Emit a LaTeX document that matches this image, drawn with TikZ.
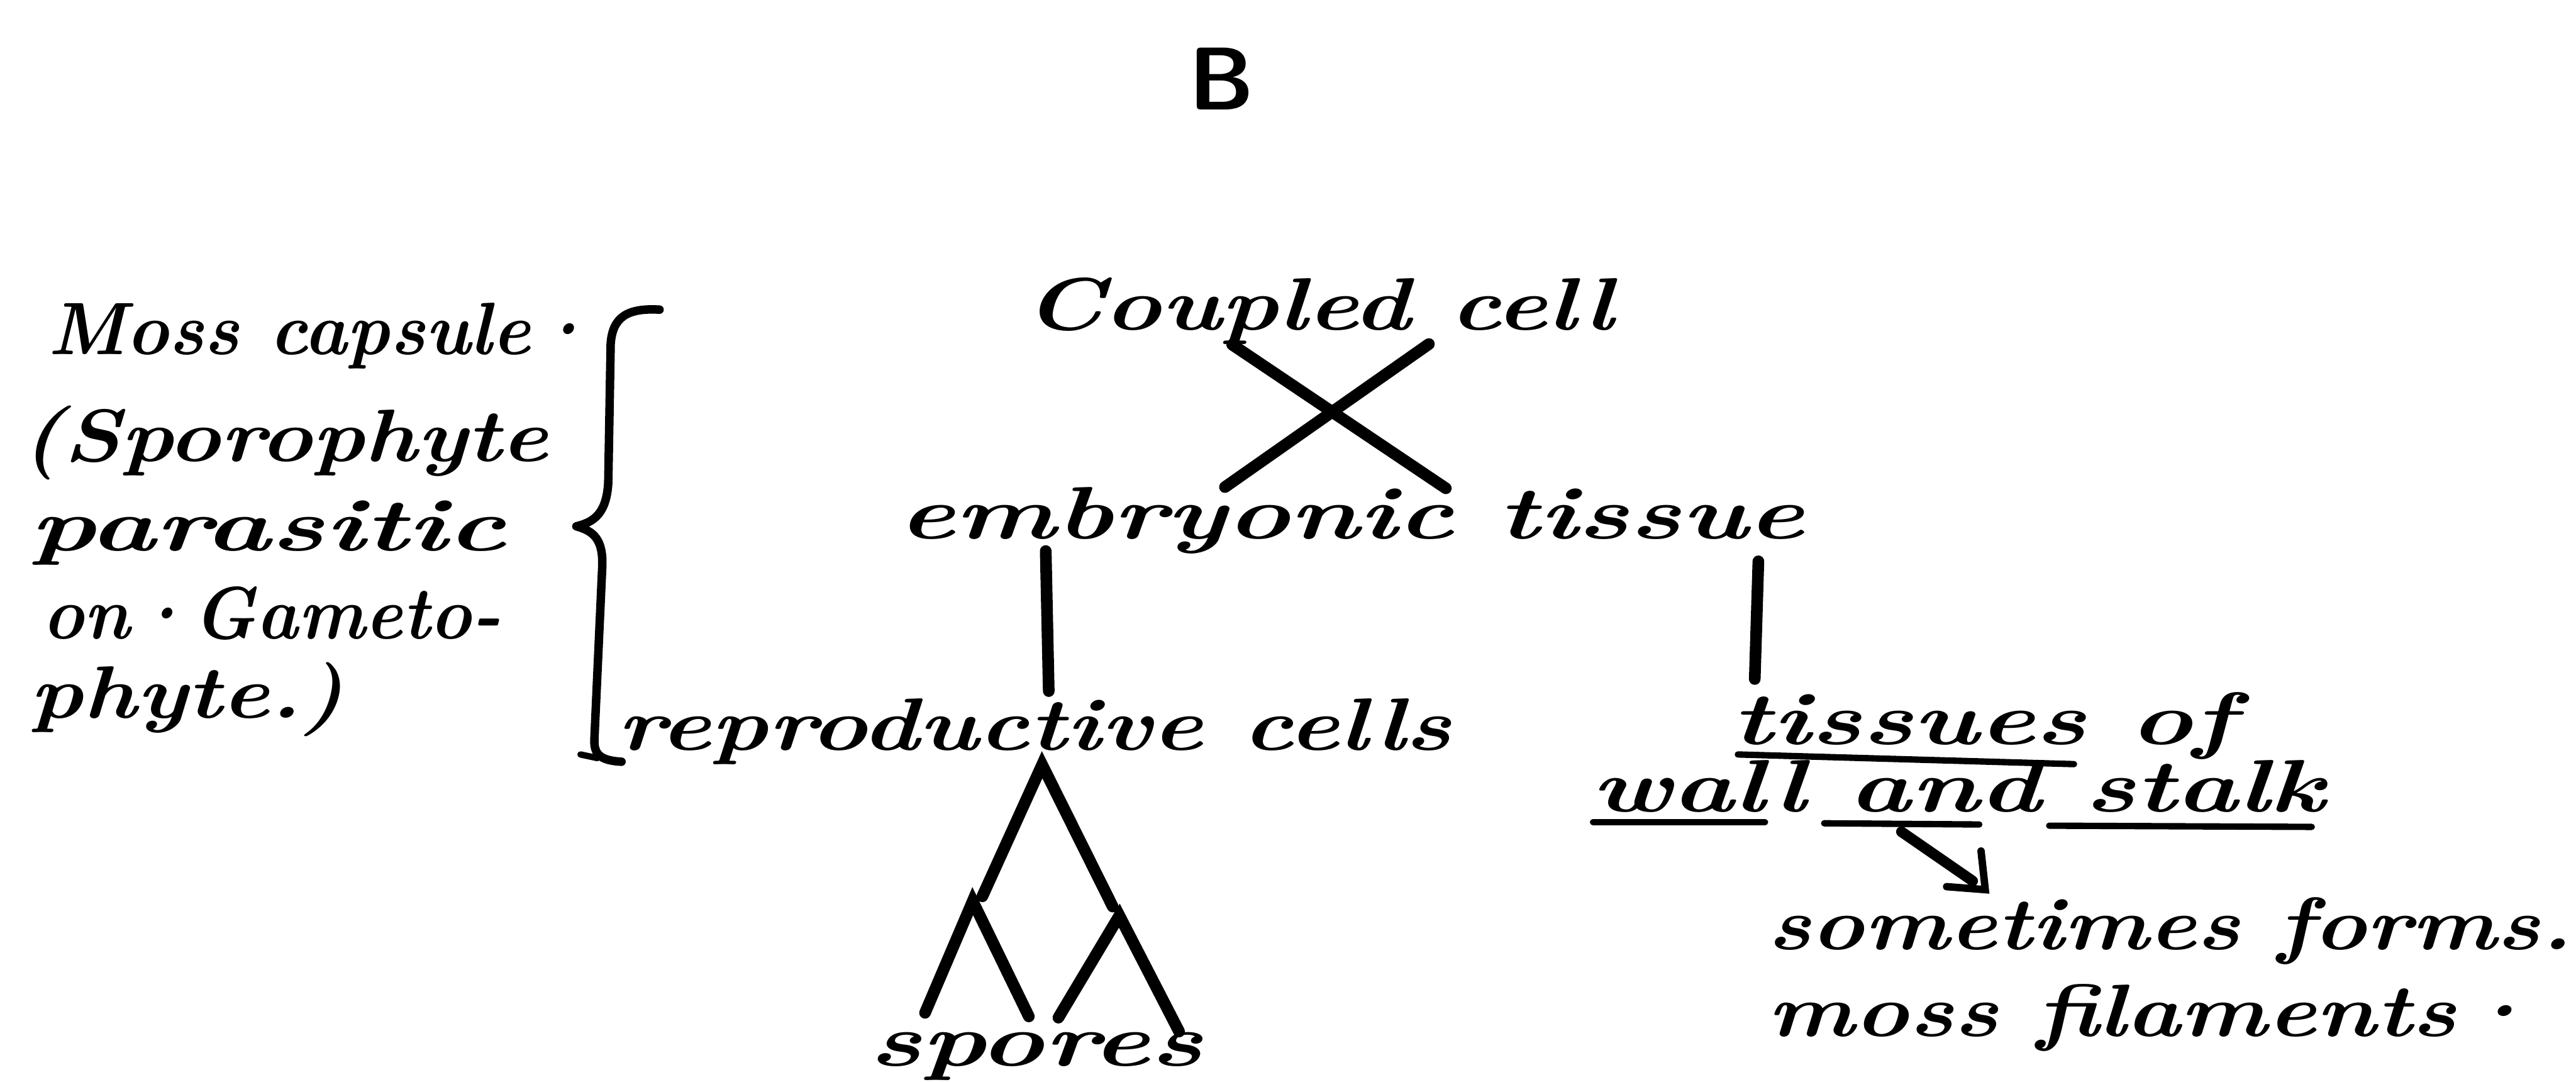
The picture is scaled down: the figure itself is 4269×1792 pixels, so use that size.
\documentclass[tikz,border=0pt]{standalone}
\usepackage{graphicx}
\usetikzlibrary{arrows.meta,calc}
\newcommand\hw[2]{\resizebox{#1}{\height}{#2}}
\begin{document}
\begin{tikzpicture}[x=0.01cm,y=-0.01cm,
  hand/.style={anchor=base west,inner sep=0pt,outer sep=0pt,font=\fontsize{35}{40}\selectfont\bfseries\itshape},
  ink/.style={line width=5.5pt,line cap=round},
  uline/.style={line width=3pt,line cap=round},
  bracestyle/.style={line width=4pt,line cap=round,line join=round}]
\useasboundingbox[fill=white] (0,0) rectangle (4269,1792);

% title
\node[inner sep=0pt,font=\fontsize{42}{46}\selectfont\sffamily\bfseries] (title) at (2024,131) {B};

% left description
\node[hand] (moss) at (80,587) {\hw{9.05cm}{Moss capsule·}};
\node[hand] (spor) at (35,765) {\hw{8.73cm}{(Sporophyte}};
\node[hand] (para) at (50,913) {\hw{7.88cm}{parasitic}};
\node[hand] (game) at (70,1058) {\hw{7.6cm}{on·Gameto-}};
\node[hand] (phyt) at (50,1190) {\hw{5.2cm}{phyte.)}};

% brace
\draw[bracestyle] (1093,513) .. controls (1040,510) and (1015,525) .. (1012,570)
  -- (1008,800) .. controls (1005,850) and (985,865) .. (955,872)
  .. controls (985,880) and (1000,895) .. (998,940)
  -- (985,1225) .. controls (984,1250) and (995,1260) .. (1030,1262);
\draw[bracestyle,line width=3pt] (962,1250) -- (990,1256);

% main tree text
\node[hand] (coupled) at (1697,547) {\hw{9.76cm}{Coupled cell}};
\node[hand] (embryo) at (1489,893) {\hw{15.0cm}{embryonic tissue}};
\node[hand] (repro) at (1023,1243) {\hw{13.82cm}{reproductive cells}};
\node[hand] (tissues) at (2870,1233) {\hw{8.33cm}{tissues of}};
\node[hand] (wall) at (2637,1345) {\hw{12.15cm}{wall and stalk}};
\node[hand] (some) at (2929,1573) {\hw{13.33cm}{sometimes forms.}};
\node[hand] (fila) at (2929,1717) {\hw{12.76cm}{moss filaments·}};
\node[hand] (spores) at (1440,1766) {\hw{5.53cm}{spores}};

% coordinates
\coordinate (xa1) at (2042,571); \coordinate (xa2) at (2396,809);
\coordinate (xb1) at (2368,570); \coordinate (xb2) at (2030,807);
\coordinate (vl1) at (1733,913); \coordinate (vl2) at (1738,1145);
\coordinate (vr1) at (2914,930); \coordinate (vr2) at (2908,1125);
\coordinate (apex) at (1727,1267);
\coordinate (bl) at (1628,1485); \coordinate (br) at (1844,1502);
\coordinate (sla) at (1612,1493); \coordinate (sl1) at (1533,1678); \coordinate (sl2) at (1705,1684);
\coordinate (sra) at (1855,1517); \coordinate (sr1) at (1754,1686); \coordinate (sr2) at (1954,1709);
\coordinate (arrS) at (3151,1378); \coordinate (arrE) at (3290,1474);
\coordinate (arrM) at ($(arrS)!0.85!(arrE)$);

% connectors
\draw[ink] (xa1) -- (xa2);
\draw[ink] (xb1) -- (xb2);
\draw[ink] (vl1) -- (vl2);
\draw[ink] (vr1) -- (vr2);
\draw[ink,line join=miter] (bl) -- (apex) -- (br);
\draw[ink,line join=miter] (sl1) -- (sla) -- (sl2);
\draw[ink,line join=miter] (sr1) -- (sra) -- (sr2);

% underlines
\draw[uline] (2880,1250) -- (3437,1266);
\draw[uline] (2640,1362) -- (2925,1362);
\draw[uline] (3023,1364) -- (3280,1366);
\draw[uline] (3396,1368) -- (3831,1370);

% arrow
\draw[line width=5pt,line cap=round] (arrS) -- (arrM);
\draw[line width=3.5pt,line cap=round,line join=miter] (3283,1410) -- (arrE) -- (3226,1469);
\end{tikzpicture}
\end{document}
